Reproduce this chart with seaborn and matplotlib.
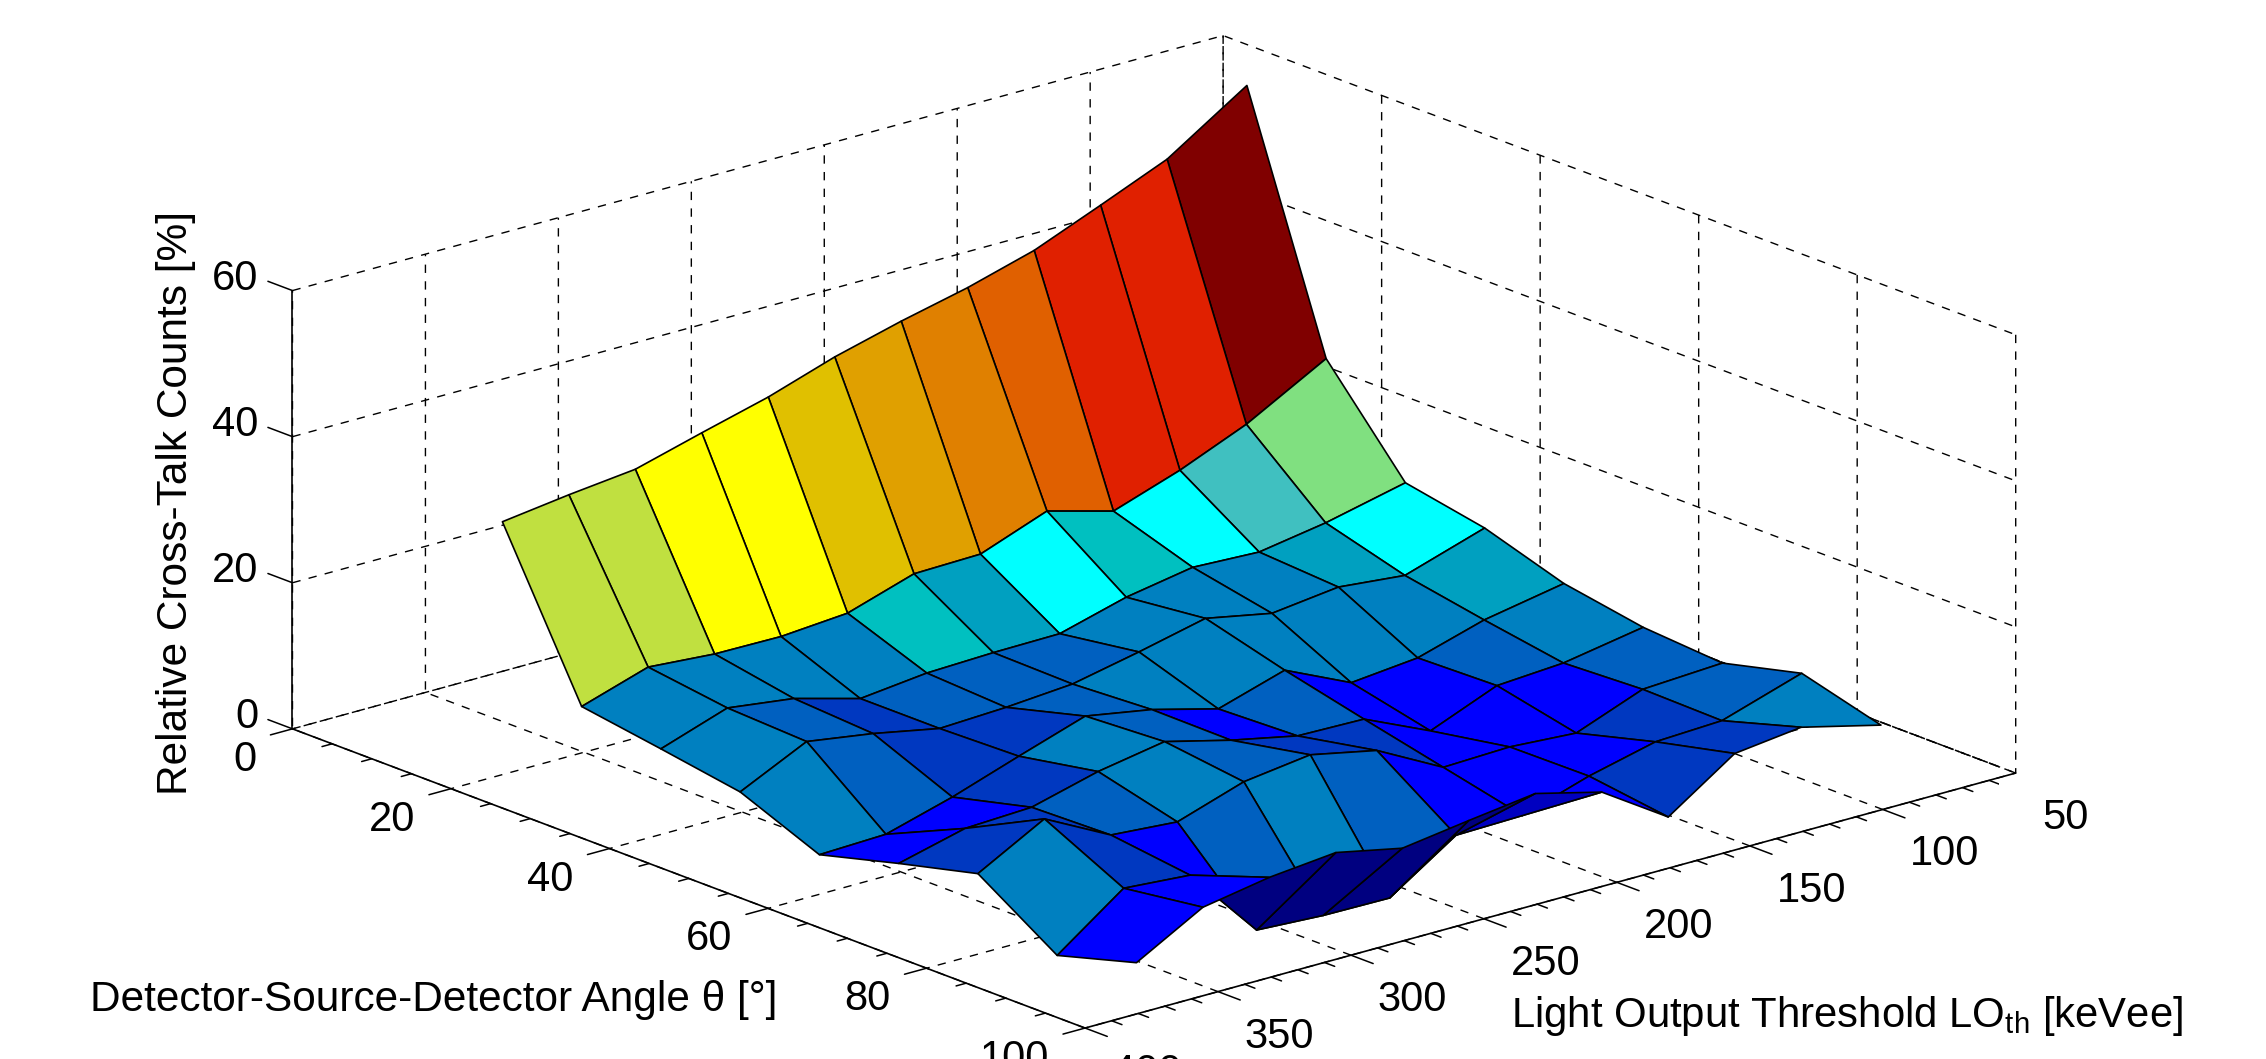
import numpy as np
import matplotlib
matplotlib.use('Agg')
import matplotlib.pyplot as plt
import seaborn as sns

# angle and light output grids of the surface
theta = [3, 13, 23, 33, 43, 53, 63, 73, 83]
light_output = [50, 80, 105, 130, 155, 180, 205, 230, 255, 280, 305, 330]

# relative cross-talk counts, one row per angle
row_0 = [54.4, 47.3, 43.5, 39.8, 37.2, 35.1, 32.7, 29.7, 27.3, 24.8, 23.8, 22.6]
row_1 = [21.1, 15.1, 11.3, 8.2, 10.7, 7.3, 7.1, 4.2, 3.5, 3.6, 4.3, 1.4]
row_2 = [8.2, 5.7, 4.2, 4.6, 3.0, 0.5, 0.4, 0.1, -0.9, 1.6, 2.8, -0.3]
row_3 = [6.1, 2.6, 3.5, 2.4, 4.2, 2.1, 0.2, -0.5, -0.9, 0.9, 2.3, -2.1]
row_4 = [2.6, 0.6, -2.1, -3.0, 1.2, -1.6, 0.8, 2.4, -0.6, -3.7, -6.3, -6.6]
row_5 = [0.7, -1.2, -1.8, -5.5, -1.4, -1.2, 0.7, 3.0, 1.4, -1.0, -1.4, -3.7]
row_6 = [-0.1, -0.7, -4.2, -3.6, -3.9, 0.9, 2.8, 1.6, -1.4, -0.7, 4.0, -1.0]
row_7 = [2.6, -0.9, -1.3, -3.5, -6.4, -6.6, -12.7, -12.6, -12.1, -2.1, -1.4, -8.1]
row_8 = [-0.4, 2.3, 1.2, -5.0, 0.9, 3.2, 2.0, 0.7, 2.6, 1.7, 0.1, -5.0]
counts = [row_0, row_1, row_2, row_3, row_4, row_5, row_6, row_7, row_8]

# the picture's colours do not follow height exactly, so each cell has its own level
jet_hex = ['#000080', '#0000c0', '#0000ff', '#0038c0', '#0060c0', '#0080c0', '#00a0c0',
           '#00c0c0', '#00ffff', '#40c0c0', '#80e080', '#c0e040', '#ffff00', '#e0c000',
           '#e0a000', '#e08000', '#e06000', '#e02000', '#800000']
cell_levels = [
    [18, 17, 17, 16, 15, 14, 13, 12, 12, 11, 11],
    [10, 9, 8, 7, 8, 6, 7, 5, 5, 5, 5],
    [8, 6, 5, 5, 5, 4, 4, 4, 3, 4, 5],
    [6, 5, 5, 5, 5, 5, 4, 3, 3, 4, 5],
    [5, 4, 2, 2, 4, 2, 4, 5, 3, 2, 2],
    [4, 2, 2, 2, 3, 3, 4, 5, 4, 3, 3],
    [4, 3, 2, 2, 2, 4, 5, 4, 2, 3, 5],
    [5, 3, 3, 2, 1, 0, 0, 0, 0, 2, 2],
]

lo_ticks = [50, 100, 150, 200, 250, 300, 350, 400]
theta_ticks = [0, 20, 40, 60, 80, 100]
count_ticks = [0, 20, 40, 60]
lo_minor = [60, 70, 80, 90, 110, 120, 130, 140, 160, 170, 180, 190, 210, 220, 230, 240,
            260, 270, 280, 290, 310, 320, 330, 340, 360, 370, 380, 390]
theta_minor = [5, 10, 15, 25, 30, 35, 45, 50, 55, 65, 70, 75, 85, 90, 95]

sns.set_theme(style='white', rc={'grid.color': 'black', 'grid.linestyle': (0, (6, 6)),
                                 'grid.linewidth': 1.0, 'axes.linewidth': 1.2,
                                 'axes.edgecolor': 'black', 'mathtext.default': 'regular',
                                 'text.color': 'black', 'xtick.color': 'black',
                                 'ytick.color': 'black'})
plt.rcParams['font.family'] = ['Liberation Sans', 'DejaVu Sans']

palette = np.array(sns.color_palette(jet_hex))
fig = plt.figure(figsize=(22.66, 10.59), dpi=100)
ax = fig.add_axes([0.1156, -0.3446, 0.7667, 1.6405], projection='3d', computed_zorder=False)
ax.set_proj_type('ortho')
ax.view_init(elev=18.76, azim=49.57)
ax.set_box_aspect((846, 845.7, 320.3))

lo_grid, theta_grid = np.meshgrid(light_output, theta)
ax.plot_surface(lo_grid, theta_grid, np.array(counts), facecolors=palette[np.array(cell_levels)],
                rstride=1, cstride=1, shade=False, edgecolor='black', linewidth=1.2,
                antialiased=True, zorder=3)

# tick marks, drawn by hand because mplot3d has no minor ticks
line_style = dict(color='black', lw=1.1, zorder=1)
for lo in lo_minor:
    ax.plot([lo, lo], [100, 101.3], [0, 0], **line_style)
for lo in lo_ticks:
    ax.plot([lo, lo], [100, 102.8], [0, 0], **line_style)
for t in theta_minor:
    ax.plot([400, 403.8], [t, t], [0, 0], **line_style)
for t in theta_ticks:
    ax.plot([400, 408.3], [t, t], [0, 0], **line_style)
for c in count_ticks:
    ax.plot([400, 400], [0, -3.1], [c, c], **line_style)
ax.plot([50, 50], [0, 100], [0, 0], color='black', lw=1.1, ls=(0, (3, 1)), zorder=1)

ax.set_xlim(50, 400, view_margin=0)
ax.set_ylim(0, 100, view_margin=0)
ax.set_zlim(0, 60, view_margin=0)
ax.set_xticks(lo_ticks)
ax.set_yticks(theta_ticks)
ax.set_zticks(count_ticks)

for axis in (ax.xaxis, ax.yaxis, ax.zaxis):
    axis.set_pane_color((1, 1, 1, 0))
    axis.pane.set_edgecolor('none')
    axis.line.set_color('black')
    axis.line.set_linewidth(1.2)
ax.tick_params(axis='both', labelsize=30, color='none')
ax.tick_params(axis='z', labelsize=30, color='none')
ax.tick_params(axis='x', pad=14)
ax.tick_params(axis='y', pad=17)
ax.tick_params(axis='z', pad=5)
for lab in ax.get_xticklabels():
    lab.set_ha('left')
    lab.set_va('top')
for lab in ax.get_yticklabels():
    lab.set_ha('right')
    lab.set_va('center_baseline')
for lab in ax.get_zticklabels():
    lab.set_ha('right')
    lab.set_va('baseline')

fig.text(0.0395, 0.056, 'Detector-Source-Detector Angle θ [°]', fontsize=30.5, ha='left', va='center')
fig.text(0.667, 0.041, 'Light Output Threshold LO$_{th}$ [keVee]', fontsize=30.2, ha='left', va='center')
fig.text(0.0775, 0.5246, 'Relative Cross-Talk Counts [%]', fontsize=30.5, rotation=90, ha='center', va='center')

fig.savefig('out.png', dpi=100)
